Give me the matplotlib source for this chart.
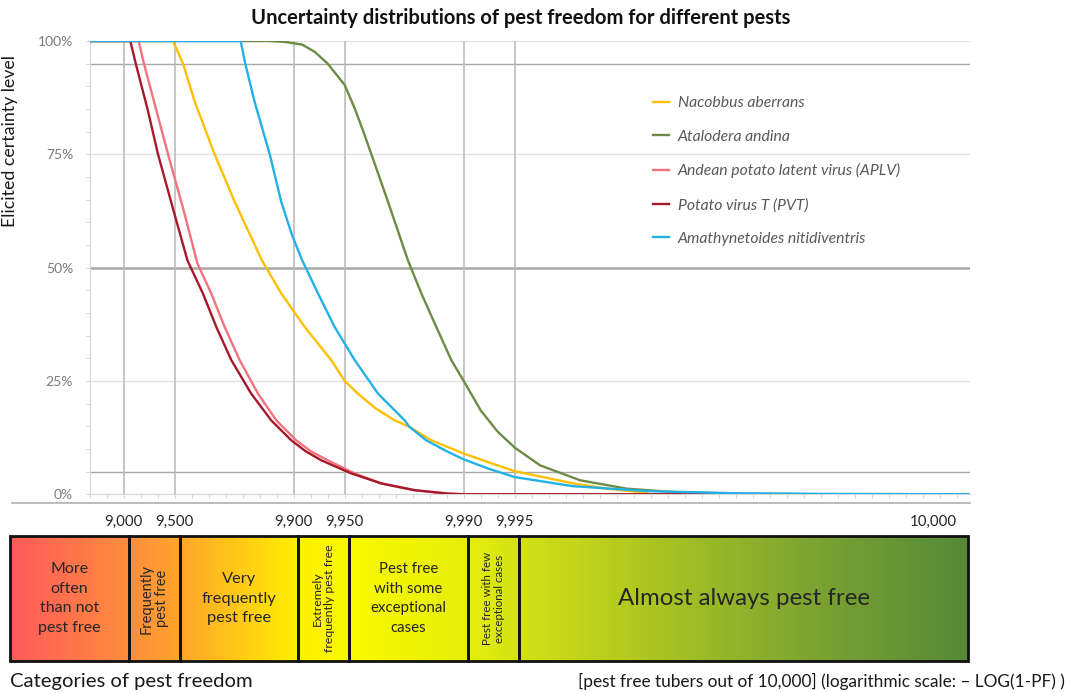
import numpy as np
import matplotlib
matplotlib.use('Agg')
import matplotlib.pyplot as plt
from matplotlib.lines import Line2D
from matplotlib.patches import Rectangle
from matplotlib.colors import LinearSegmentedColormap

plt.rcParams['font.family'] = ['Lato', 'DejaVu Sans']

# ---------------- data ----------------
series_names = ["Nacobbus aberrans", "Atalodera andina",
                "Andean potato latent virus (APLV)", "Potato virus T (PVT)",
                "Amathynetoides nitidiventris"]
series_colors = ["#FFC000", "#6E8B45", "#F2737D", "#A8182B", "#22B2E8"]

nacobbus_x = [0.8, 1.29, 1.349, 1.418, 1.535, 1.653, 1.74, 1.813, 1.927, 2.065, 2.221, 2.3, 2.378,
              2.48, 2.594, 2.68, 2.81, 3.0, 3.15, 3.3, 3.645, 3.85, 4.08]
nacobbus_y = [100, 100, 95, 86.6, 75, 64.5, 57.5, 51.6, 44.3, 36.9, 29.6, 25, 22.2,
              19.0, 16.3, 14.9, 11.9, 9.0, 7.0, 5.1, 2.4, 1.2, 0.3]

atalodera_x = [0.8, 1.85, 1.95, 2.05, 2.124, 2.2, 2.3, 2.359, 2.41, 2.457, 2.555, 2.672, 2.751,
               2.839, 2.927, 3.0, 3.1, 3.2, 3.3, 3.449, 3.684, 3.958, 4.23, 4.63, 5.0]
atalodera_y = [100, 100, 99.8, 99.2, 97.6, 95, 90.3, 85.1, 80.0, 75, 64.5, 51.6, 44.3,
               36.9, 29.6, 25, 18.5, 13.8, 10.3, 6.4, 3.1, 1.25, 0.5, 0.15, 0.05]

aplv_x = [0.8, 1.088, 1.119, 1.19, 1.261, 1.35, 1.433, 1.515, 1.594, 1.682, 1.79, 1.898, 2.015,
          2.1, 2.2, 2.359, 2.515, 2.712, 2.908, 3.0, 4.82]
aplv_y = [100, 100, 95, 85, 75, 63, 51.0, 44.3, 36.9, 29.6, 22.2, 16.3, 11.9,
          9.5, 7.5, 4.6, 2.4, 0.9, 0.15, 0, 0]

pvt_x = [0.8, 1.039, 1.071, 1.14, 1.202, 1.29, 1.375, 1.466, 1.545, 1.633, 1.75, 1.868, 1.986,
         2.07, 2.162, 2.339, 2.515, 2.712, 2.908, 3.0, 4.82]
pvt_y = [100, 100, 95, 85, 75, 63, 51.6, 44.3, 36.9, 29.6, 22.2, 16.3, 11.9,
         9.5, 7.5, 4.6, 2.4, 0.9, 0.15, 0, 0]

amathy_x = [0.8, 1.688, 1.715, 1.77, 1.859, 1.927, 1.99, 2.05, 2.143, 2.241, 2.359, 2.496,
            2.653, 2.68, 2.78, 2.9, 3.0, 3.15, 3.3, 3.64, 4.08, 4.63, 5.2, 5.978]
amathy_y = [100, 100, 95, 86.6, 75, 64.5, 57.2, 51.6, 44.3, 36.9, 29.6, 22.2,
            16.3, 14.9, 11.9, 9.5, 7.7, 5.6, 3.8, 1.8, 0.7, 0.2, 0.08, 0.02]

# category boundaries in pest-free tubers out of 10,000
category_pf = [9000, 9500, 9900, 9950, 9990, 9995]
category_labels = ["9,000", "9,500", "9,900", "9,950", "9,990", "9,995"]
end_label = "10,000"
end_pos = 5.76
bar_start_pf = 5000
bar_end = 5.95

category_texts = ["More\noften\nthan not\npest free", "Frequently\npest free",
                  "Very\nfrequently\npest free", "Extremely\nfrequently pest free",
                  "Pest free\nwith some\nexceptional\ncases",
                  "Pest free with few\nexceptional cases", "Almost always pest free"]
category_rot = [0, 90, 0, 90, 0, 90, 0]
category_fs = [11.5, 10.5, 11.8, 8.9, 10.8, 8.3, 17.3]

grad_pos = [0.301, 1.0, 1.3, 2.0, 2.3, 3.0, 3.3, 4.0, 5.0, 5.95]
grad_cols = ["#FF5A5A", "#FF8E3C", "#FFA62A", "#FFF000", "#FAFA00", "#E6EE0A",
             "#D2E214", "#B0C820", "#7EA532", "#568838"]

yticks_pct = [0, 25, 50, 75, 100]

# ---------------- figure ----------------
W, H = 1070, 693
fig = plt.figure(figsize=(W / 100, H / 100), dpi=100)


def fx(px):
    return px / W


def fy(py):
    return 1 - py / H


def to_log(pf):
    return -np.log10(1 - np.asarray(pf, dtype=float) / 10000.0)


bounds = to_log(category_pf)

ax_l, ax_r = fx(89.7), fx(970)
ax = fig.add_axes([ax_l, fy(494.3), ax_r - ax_l, fy(41) - fy(494.3)])
ax.set_xlim(0.8, 5.978)
ax.set_ylim(0, 100)

for y in [25, 75, 100]:
    ax.axhline(y, color="#e2e2e2", lw=1.0, zorder=1)
ax.axhline(50, color="#a8a8a8", lw=1.8, zorder=1)
for y in [5, 95]:
    ax.axhline(y, color="#a8a8a8", lw=1.0, zorder=1)
for b in bounds:
    ax.axvline(b, color="#bcbcbc", lw=1.2, zorder=1)

xs = [nacobbus_x, atalodera_x, aplv_x, pvt_x, amathy_x]
ys = [nacobbus_y, atalodera_y, aplv_y, pvt_y, amathy_y]
handles = []
for x, y, c, n in zip(xs, ys, series_colors, series_names):
    h, = ax.plot(x, y, color=c, lw=1.7, label=n, zorder=3, solid_joinstyle='round')
    handles.append(h)

ax.set_yticks(yticks_pct)
ax.set_yticklabels([f"{v}%" for v in yticks_pct])
ax.set_yticks(np.arange(0, 101, 5), minor=True)
ax.tick_params(axis='y', which='both', length=3, color="#d0d0d0", labelcolor="#7a7a7a",
               labelsize=10, pad=9)
ax.set_xticks(np.arange(0.8, 5.98, 0.1), minor=True)
ax.set_xticks([])
ax.tick_params(axis='x', which='minor', length=3, color="#d0d0d0")
for s in ['top', 'right']:
    ax.spines[s].set_visible(False)
ax.spines['left'].set_color("#d6d6d6")
ax.spines['bottom'].set_color("#d6d6d6")
ax.set_ylabel("Elicited certainty level", fontsize=12.8, color="#1a1a1a")
ax.yaxis.set_label_coords((fx(18) - ax_l) / (ax_r - ax_l), 0.78)

leg = ax.legend(handles=handles, loc='upper left', bbox_to_anchor=(fx(639), fy(82)),
                bbox_transform=fig.transFigure, frameon=False,
                prop={'style': 'italic', 'size': 11.3},
                handlelength=1.0, handletextpad=0.57, labelspacing=1.25, borderpad=0.4)
for t in leg.get_texts():
    t.set_color("#595959")

fig.text(0.487, fy(18), "Uncertainty distributions of pest freedom for different pests",
         ha='center', va='center', fontsize=14.5, fontweight='bold', color="#111111")

fig.add_artist(Line2D([fx(12), fx(970)], [fy(503), fy(503)], color="#a8a8a8", lw=1.1))

# ---------------- category bar ----------------
bx = fig.add_axes([fx(10), fy(661), fx(968.3) - fx(10), fy(536) - fy(661)])
x0 = float(to_log(bar_start_pf))
bx.set_xlim(x0, bar_end)
bx.set_ylim(0, 1)
bx.axis('off')
norm_pos = [(p - grad_pos[0]) / (grad_pos[-1] - grad_pos[0]) for p in grad_pos]
cmap = LinearSegmentedColormap.from_list("pf", list(zip(norm_pos, grad_cols)))
grad = np.linspace(0, 1, 600)[None, :]
bx.imshow(grad, aspect='auto', cmap=cmap, extent=[x0, bar_end, 0, 1], zorder=0)

edges = [x0] + list(bounds) + [bar_end]
for i in range(len(edges) - 1):
    bx.add_patch(Rectangle((edges[i], 0), edges[i + 1] - edges[i], 1, fill=False,
                           ec="#111111", lw=2.0, zorder=2, clip_on=False))
    cx = (edges[i] + edges[i + 1]) / 2
    ls = 1.5 if category_rot[i] == 0 else 1.15
    bx.text(cx, 0.5, category_texts[i], ha='center', va='center',
            rotation=category_rot[i], fontsize=category_fs[i], color="#262626",
            linespacing=ls, zorder=3)

# value labels sit under the chart's own x axis
ytxt = -(522 - 494.3) / 453.3
tr = ax.get_xaxis_transform()
for b, lab in zip(bounds, category_labels):
    ax.text(b, ytxt, lab, transform=tr, ha='center', va='center', fontsize=10.8,
            color="#262626", clip_on=False)
ax.text(end_pos, ytxt, end_label, transform=tr, ha='center', va='center', fontsize=10.8,
        color="#262626", clip_on=False)

fig.text(fx(10), fy(681), "Categories of pest freedom", ha='left', va='center',
         fontsize=14.6, color="#1a1a1a")
fig.text(fx(1065), fy(681),
         "[pest free tubers out of 10,000] (logarithmic scale: \u2013 LOG(1-PF) )",
         ha='right', va='center', fontsize=12.4, color="#1a1a1a")

fig.savefig("out.png", dpi=100)
